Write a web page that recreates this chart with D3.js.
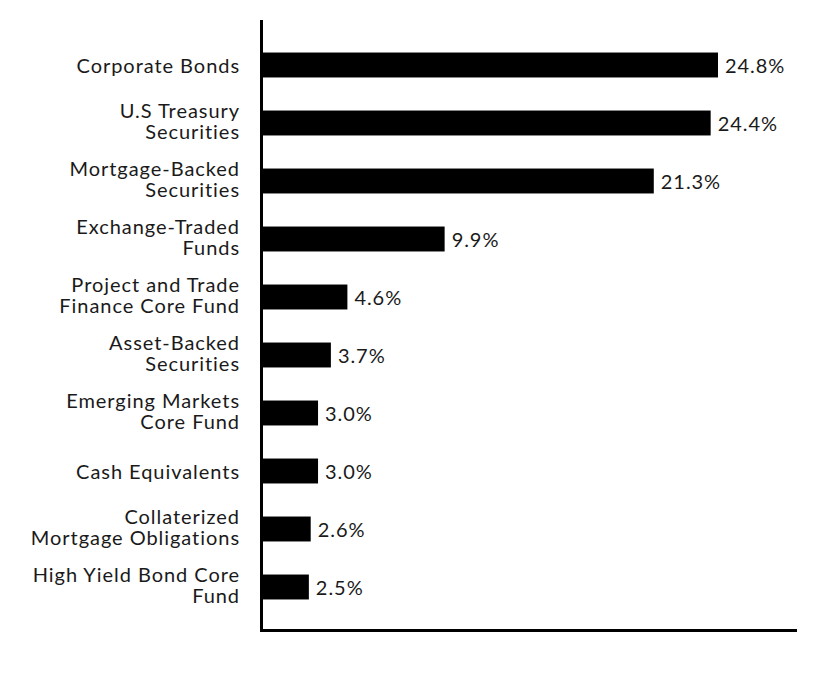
<!DOCTYPE html>
<html>
<head>
<meta charset="utf-8">
<script src="https://cdn.jsdelivr.net/npm/d3@7"></script>
<style>
  body { margin: 0; background: #fff; }
  text { font-family: Lato, "Noto Sans", sans-serif; fill: #1a1a1a; font-variant-ligatures: none; letter-spacing: 0.95px; }
</style>
</head>
<body>
<div id="chart"></div>
<script>
// holdings by sector, percent of net assets
const categories = [
    ["Corporate Bonds"],
    ["U.S Treasury", "Securities"],
    ["Mortgage-Backed", "Securities"],
    ["Exchange-Traded", "Funds"],
    ["Project and Trade", "Finance Core Fund"],
    ["Asset-Backed", "Securities"],
    ["Emerging Markets", "Core Fund"],
    ["Cash Equivalents"],
    ["Collaterized", "Mortgage Obligations"],
    ["High Yield Bond Core", "Fund"]
]
const values = [24.8, 24.4, 21.3, 9.9, 4.6, 3.7, 3.0, 3.0, 2.6, 2.5]
const valueLabels = ["24.8%", "24.4%", "21.3%", "9.9%", "4.6%", "3.7%", "3.0%", "3.0%", "2.6%", "2.5%"]

const width = 828, height = 696
const fontSize = 20

const svg = d3.select("#chart").append("svg")
    .attr("width", width)
    .attr("height", height)

const rows = categories.map((c, i) => ({ key: c.join(" "), lines: c, value: values[i], label: valueLabels[i] }))

const x = d3.scaleLinear()
    .domain([0, d3.max(values)])
    .range([263, 718])

const y = d3.scaleBand()
    .domain(rows.map(d => d.key))
    .range([36, 616])
    .paddingInner(0.57)
    .paddingOuter(0.285)

// bars
svg.append("g")
    .selectAll("rect")
    .data(rows)
    .enter()
    .append("rect")
    .attr("x", x(0))
    .attr("y", d => y(d.key))
    .attr("width", d => x(d.value) - x(0))
    .attr("height", y.bandwidth())
    .attr("fill", "#000")

// value labels
svg.append("g")
    .selectAll("text")
    .data(rows)
    .enter()
    .append("text")
    .attr("x", d => x(d.value) + 7)
    .attr("y", d => y(d.key) + y.bandwidth() / 2)
    .attr("dy", "0.38em")
    .attr("font-size", fontSize)
    .text(d => d.label)

// category labels, one or two lines
const lineGap = 21
const cat = svg.append("g")
    .selectAll("text")
    .data(rows)
    .enter()
    .append("text")
    .attr("text-anchor", "end")
    .attr("font-size", fontSize)
    .attr("y", d => y(d.key) + y.bandwidth() / 2)

cat.selectAll("tspan")
    .data(d => d.lines.map((t, i) => ({ t, i, n: d.lines.length })))
    .enter()
    .append("tspan")
    .attr("x", 240)
    .attr("dy", d => d.i == 0 ? (0.38 * fontSize - (d.n - 1) * 12.6) : lineGap)
    .text(d => d.t)

// axes lines
svg.append("line")
    .attr("x1", 261.5).attr("x2", 261.5)
    .attr("y1", 20).attr("y2", 632)
    .attr("stroke", "#000").attr("stroke-width", 3)

svg.append("line")
    .attr("x1", 260).attr("x2", 797)
    .attr("y1", 630.5).attr("y2", 630.5)
    .attr("stroke", "#000").attr("stroke-width", 3)
</script>
</body>
</html>
